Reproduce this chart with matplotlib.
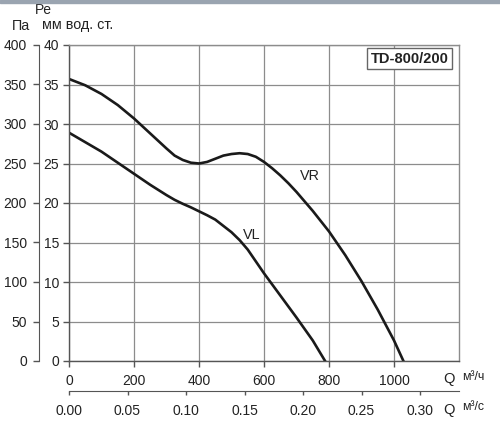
import matplotlib.pyplot as plt
from matplotlib.patches import Rectangle

plt.rcParams['font.family'] = ['Liberation Sans', 'DejaVu Sans']

# расход, м³/ч и давление, мм вод. ст.
q_vr = [0, 50, 100, 150, 200, 250, 300, 325, 350, 375, 400, 425, 450, 475, 500,
        525, 550, 575, 600, 625, 650, 675, 700, 750, 800, 850, 900, 950, 1000, 1029]
pe_vr = [35.7, 34.9, 33.8, 32.4, 30.7, 28.8, 26.9, 26.0, 25.45, 25.1, 25.0, 25.2,
         25.6, 26.0, 26.2, 26.3, 26.2, 25.85, 25.2, 24.4, 23.5, 22.5, 21.4, 19.0,
         16.4, 13.4, 10.1, 6.5, 2.6, 0.0]

q_vl = [0, 50, 100, 150, 200, 250, 300, 325, 350, 375, 400, 425, 450, 475, 500,
        525, 550, 575, 600, 650, 700, 750, 788]
pe_vl = [28.9, 27.7, 26.5, 25.1, 23.7, 22.3, 21.0, 20.4, 19.9, 19.45, 18.95, 18.45,
         17.9, 17.1, 16.3, 15.3, 14.1, 12.6, 11.1, 8.3, 5.5, 2.6, 0.0]

q_ticks = [0, 200, 400, 600, 800, 1000]
mm_ticks = [0, 5, 10, 15, 20, 25, 30, 35, 40]
pa_ticks = [0, 50, 100, 150, 200, 250, 300, 350, 400]
qs_ticks = [0.00, 0.05, 0.10, 0.15, 0.20, 0.25, 0.30]

grid_c = '#8c8c8c'
text_c = '#222222'

fig = plt.figure(figsize=(5, 4.21), dpi=100)
ax = fig.add_axes([69 / 500, 1 - 361 / 421, 390 / 500, 316 / 421])

ax.plot(q_vr, pe_vr, color='#1a1a1a', lw=1.9, solid_joinstyle='round')
ax.plot(q_vl, pe_vl, color='#1a1a1a', lw=1.9, solid_joinstyle='round')

ax.set_xlim(0, 1200)
ax.set_ylim(0, 40)
ax.set_xticks(q_ticks)
ax.set_yticks(mm_ticks)
ax.grid(True, color=grid_c, lw=0.9)
for s in ax.spines.values():
    s.set_color(grid_c)
    s.set_linewidth(1.0)
ax.spines['bottom'].set_color('#555555')
ax.spines['left'].set_color('#555555')
ax.tick_params(axis='both', colors='#555555', labelcolor=text_c, labelsize=10,
               length=4, width=1.0)
ax.tick_params(axis='x', pad=5.5)
ax.tick_params(axis='y', pad=3)

ax.text(741, 23.4, 'VR', fontsize=10.4, color=text_c, ha='center', va='center')
ax.text(562, 16.0, 'VL', fontsize=10.4, color=text_c, ha='center', va='center')
ax.text(0.873, 0.957, 'TD-800/200', transform=ax.transAxes, fontsize=10.5,
        fontweight='bold', color=text_c, ha='center', va='center',
        bbox=dict(boxstyle='square,pad=0.25', fc='white', ec='#666666', lw=1.0))

# шкала Па слева
pa = ax.secondary_yaxis(-0.076, functions=(lambda y: y * 10, lambda p: p / 10))
pa.set_yticks(pa_ticks)
pa.spines['left'].set_color('#555555')
pa.tick_params(colors='#555555', labelcolor=text_c, labelsize=10, length=4.5,
               width=1.0, pad=4.5)

# шкала м³/с снизу
qs = ax.secondary_xaxis(-0.095, functions=(lambda q: q / 3600, lambda s: s * 3600))
qs.set_xticks(qs_ticks)
qs.set_xticklabels([f'{v:.2f}' for v in qs_ticks])
qs.spines['bottom'].set_color('#555555')
qs.tick_params(colors='#555555', labelcolor=text_c, labelsize=10, length=3,
               width=1.0, pad=6.5)

fig.text(35 / 500, 1 - 10 / 421, 'Pe', fontsize=10, color=text_c, va='center')
fig.text(12 / 500, 1 - 25.5 / 421, 'Па', fontsize=10.4, color=text_c, va='center')
fig.text(42 / 500, 1 - 25.5 / 421, 'мм вод. ст.', fontsize=10.4, color=text_c,
         va='center')
fig.text(449 / 500, 1 - 379 / 421, 'Q', fontsize=10.6, color=text_c,
         ha='center', va='center')
fig.text(462 / 500, 1 - 377.5 / 421, 'м³/ч', fontsize=8.8, color=text_c, va='center')
fig.text(449 / 500, 1 - 410 / 421, 'Q', fontsize=10.6, color=text_c,
         ha='center', va='center')
fig.text(462 / 500, 1 - 407 / 421, 'м³/с', fontsize=8.8, color=text_c, va='center')

fig.patches.append(Rectangle((0, 1 - 3 / 421), 1, 3 / 421,
                             transform=fig.transFigure, color='#9aa4b0', zorder=5))

fig.savefig('out.png', dpi=100)
